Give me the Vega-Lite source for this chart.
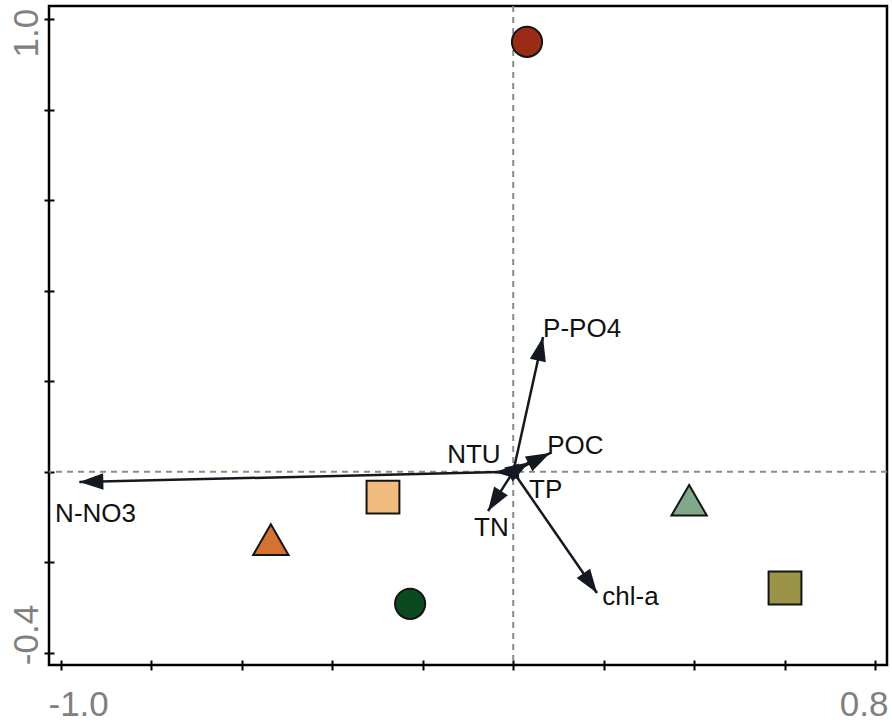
{
  "$schema": "https://vega.github.io/schema/vega-lite/v6.json",
  "width": 838,
  "height": 659,
  "autosize": {"type": "none"},
  "padding": {"left": 49, "top": 6, "right": 5, "bottom": 57},
  "background": "white",
  "config": {
    "font": "Liberation Sans",
    "view": {"stroke": "black", "strokeWidth": 2.5},
    "axis": {
      "domain": false,
      "grid": false,
      "offset": -5,
      "tickSize": 10,
      "tickWidth": 2,
      "tickColor": "black",
      "labelFont": "Liberation Sans",
      "labelFontSize": 35,
      "labelColor": "#808080",
      "labelOverlap": false,
      "labelBound": false
    },
    "axisX": {"labelBaseline": "top", "labelPadding": 17},
    "axisY": {"labelAngle": -90, "labelBaseline": "alphabetic", "labelPadding": 7}
  },
  "datasets": {
    "vectors": [
      {"variable": "N-NO3", "x": -0.9595, "y": -0.0228, "lx": -1.013, "ly": -0.1112},
      {"variable": "P-PO4", "x": 0.0659, "y": 0.2977, "lx": 0.066, "ly": 0.2977},
      {"variable": "POC", "x": 0.0814, "y": 0.0413, "lx": 0.075, "ly": 0.0391},
      {"variable": "NTU", "x": -0.0403, "y": -0.001, "lx": -0.146, "ly": 0.0192},
      {"variable": "TP", "x": 0.035, "y": 0.021, "lx": 0.035, "ly": -0.0581},
      {"variable": "TN", "x": -0.0557, "y": -0.0869, "lx": -0.0865, "ly": -0.1421},
      {"variable": "chl-a", "x": 0.1853, "y": -0.2681, "lx": 0.197, "ly": -0.2947}
    ],
    "samples": [
      {"sample": "S1", "group": "circle", "x": 0.0305, "y": 0.95},
      {"sample": "S2", "group": "circle", "x": -0.228, "y": -0.292},
      {"sample": "S3", "group": "square", "x": -0.288, "y": -0.056},
      {"sample": "S4", "group": "square", "x": 0.601, "y": -0.257},
      {"sample": "S5", "group": "triangle-up", "x": -0.536, "y": -0.15},
      {"sample": "S6", "group": "triangle-up", "x": 0.389, "y": -0.063}
    ]
  },
  "layer": [
    {
      "data": {"values": [{}]},
      "mark": {"type": "rule", "color": "#8c8c8c", "strokeDash": [6, 5], "strokeWidth": 2},
      "encoding": {
        "x": {
          "datum": 0, "type": "quantitative",
          "scale": {"domain": [-1.02654, 0.82654], "nice": false, "zero": false},
          "axis": {
            "title": null,
            "values": [-1, -0.8, -0.6, -0.4, -0.2, 0, 0.2, 0.4, 0.6, 0.8],
            "labelExpr": "datum.value < -0.99 ? '-1.0' : datum.value > 0.79 ? '0.8' : ''",
            "labelAlign": {"condition": {"test": "datum.value < 0", "value": "left"}, "value": "right"},
            "labelOffset": {"condition": {"test": "datum.value < 0", "value": -13}, "value": 13}
          }
        }
      }
    },
    {
      "data": {"values": [{}]},
      "mark": {"type": "rule", "color": "#8c8c8c", "strokeDash": [6, 5], "strokeWidth": 2},
      "encoding": {
        "y": {
          "datum": 0, "type": "quantitative",
          "scale": {"domain": [-0.4272, 1.0294], "nice": false, "zero": false},
          "axis": {
            "title": null,
            "values": [-0.4, -0.2, 0, 0.2, 0.4, 0.6, 0.8, 1.0],
            "labelExpr": "datum.value < -0.39 ? '-0.4' : datum.value > 0.99 ? '1.0' : ''",
            "labelAlign": {"condition": {"test": "datum.value > 0.5", "value": "right"}, "value": "left"},
            "labelOffset": {"condition": {"test": "datum.value > 0.5", "value": -11}, "value": 12}
          }
        }
      }
    },
    {
      "data": {"name": "vectors"},
      "mark": {"type": "rule", "color": "#141820", "strokeWidth": 2.5},
      "encoding": {
        "x": {"field": "x", "type": "quantitative", "scale": {"domain": [-1.02654, 0.82654], "nice": false, "zero": false}, "title": null},
        "y": {"field": "y", "type": "quantitative", "scale": {"domain": [-0.4272, 1.0294], "nice": false, "zero": false}, "title": null},
        "x2": {"datum": 0},
        "y2": {"datum": 0}
      }
    },
    {
      "data": {"name": "vectors"},
      "transform": [
        {"calculate": "-atan2(datum.y, datum.x) * 180 / PI", "as": "heading"}
      ],
      "mark": {
        "type": "point",
        "shape": "M0,0L-1,-0.34L-1,0.34Z",
        "filled": true,
        "color": "#141820",
        "opacity": 1,
        "size": 2304
      },
      "encoding": {
        "x": {"field": "x", "type": "quantitative", "scale": {"domain": [-1.02654, 0.82654], "nice": false, "zero": false}, "title": null},
        "y": {"field": "y", "type": "quantitative", "scale": {"domain": [-0.4272, 1.0294], "nice": false, "zero": false}, "title": null},
        "angle": {"field": "heading", "type": "quantitative", "scale": null}
      }
    },
    {
      "data": {"name": "vectors"},
      "mark": {"type": "text", "align": "left", "baseline": "alphabetic", "fontSize": 26, "font": "Liberation Sans", "color": "#111111"},
      "encoding": {
        "x": {"field": "lx", "type": "quantitative", "scale": {"domain": [-1.02654, 0.82654], "nice": false, "zero": false}, "title": null},
        "y": {"field": "ly", "type": "quantitative", "scale": {"domain": [-0.4272, 1.0294], "nice": false, "zero": false}, "title": null},
        "text": {"field": "variable"}
      }
    },
    {
      "data": {"name": "samples"},
      "mark": {"type": "point", "filled": true, "stroke": "#141414", "strokeWidth": 2, "opacity": 1},
      "encoding": {
        "x": {"field": "x", "type": "quantitative", "scale": {"domain": [-1.02654, 0.82654], "nice": false, "zero": false}, "title": null},
        "y": {"field": "y", "type": "quantitative", "scale": {"domain": [-0.4272, 1.0294], "nice": false, "zero": false}, "title": null},
        "fill": {
          "field": "sample",
          "type": "nominal",
          "scale": {"domain": ["S1", "S2", "S3", "S4", "S5", "S6"], "range": ["#9a2c17", "#0b4a1f", "#f2bc80", "#9b9448", "#d6722f", "#80a98b"]},
          "legend": null
        },
        "shape": {
          "field": "group",
          "type": "nominal",
          "scale": {"domain": ["circle", "square", "triangle-up"], "range": ["circle", "square", "triangle-up"]},
          "legend": null
        },
        "size": {
          "field": "group",
          "type": "nominal",
          "scale": {"domain": ["circle", "square", "triangle-up"], "range": [908, 1250, 900]},
          "legend": null
        }
      }
    }
  ]
}
